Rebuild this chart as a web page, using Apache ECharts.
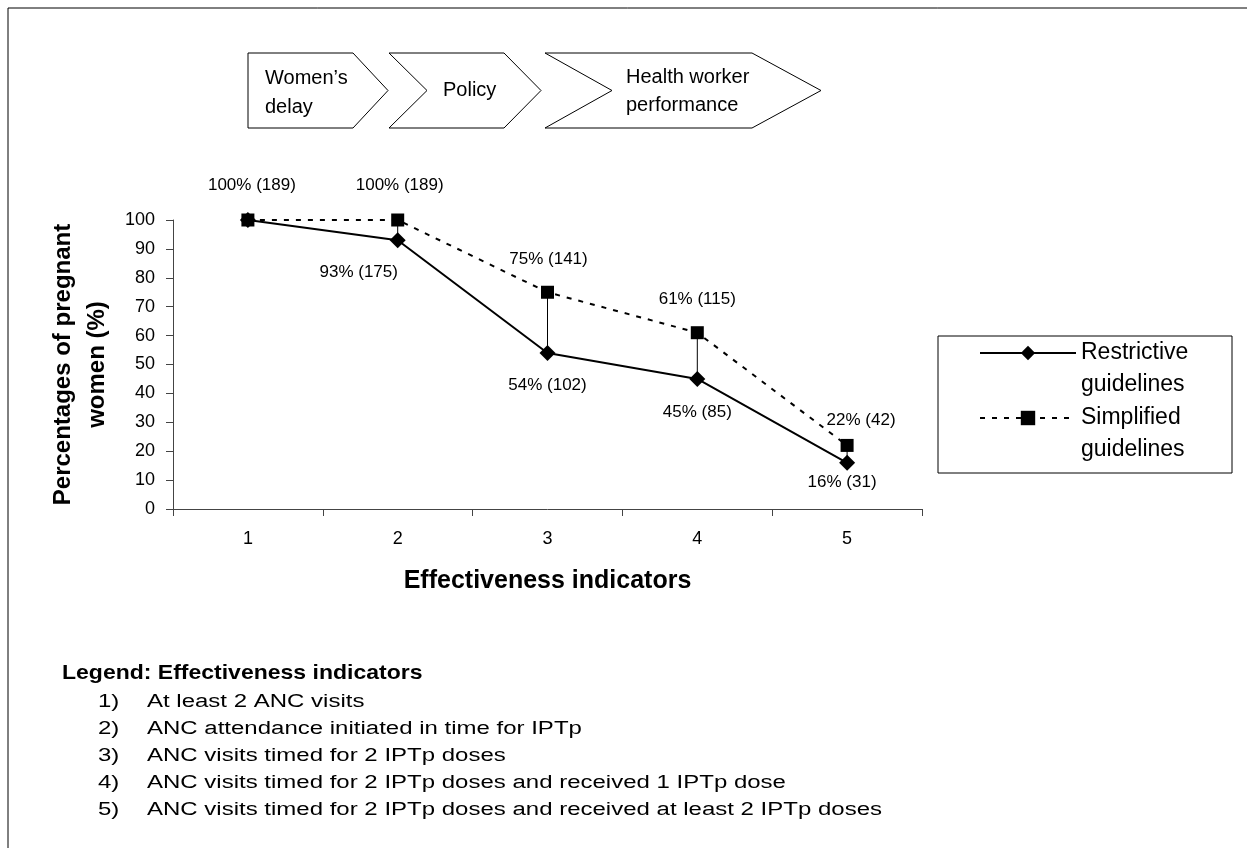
<!DOCTYPE html>
<html><head><meta charset="utf-8">
<script src="https://cdn.jsdelivr.net/npm/echarts@6/dist/echarts.min.js"></script>
<style>html,body{margin:0;padding:0;background:#fff}#c{width:1247px;height:848px}</style>
</head><body><div id="c"></div>
<script>
// ---- data ----
const categories = ['1', '2', '3', '4', '5'];
const restrictiveValues = [100, 93, 54, 45, 16];
const restrictiveCounts = [189, 175, 102, 85, 31];
const simplifiedValues = [100, 100, 75, 61, 22];
const simplifiedCounts = [189, 189, 141, 115, 42];
const seriesNames = ['Restrictive\nguidelines', 'Simplified\nguidelines'];
const stageLines = [['Women’s', 'delay'], ['Policy'], ['Health worker', 'performance']];
const indicatorTitle = 'Legend: Effectiveness indicators';
const indicatorLabels = [
  'At least 2 ANC visits',
  'ANC attendance initiated in time for IPTp',
  'ANC visits timed for 2 IPTp doses',
  'ANC visits timed for 2 IPTp doses and received 1 IPTp dose',
  'ANC visits timed for 2 IPTp doses and received at least 2 IPTp doses'
];

// ---- styling / layout (not data) ----
const FF = '"Liberation Sans", Arial, sans-serif';
const restrictiveLabelOffsets = [null, [-39, 2], [0, 2], [0, 3], [-5, -11]];
const simplifiedLabelOffsets = [[4, -2], [2, -2], [1, 0], [0, 0], [14, 8]];

function buildData(values, offsets, hideFirst) {
  return values.map((v, i) => {
    const item = { value: v };
    if (hideFirst && i === 0) item.label = { show: false };
    else if (offsets[i]) item.label = { offset: offsets[i] };
    return item;
  });
}

const chart = echarts.init(document.getElementById('c'), null, { renderer: 'canvas' });

const graphics = [];
// outer frame (left and top edges)
graphics.push({ type: 'line', shape: { x1: 8, y1: 8, x2: 8, y2: 848 }, style: { stroke: '#000', lineWidth: 1 } });
graphics.push({ type: 'line', shape: { x1: 8, y1: 8, x2: 1247, y2: 8 }, style: { stroke: '#000', lineWidth: 1 } });
// chevrons
const cTop = 53, cBot = 128, cMid = 90.5;
const chevrons = [
  [[248, cTop], [353, cTop], [388, cMid], [353, cBot], [248, cBot]],
  [[389, cTop], [504, cTop], [541, cMid], [504, cBot], [389, cBot], [427, cMid]],
  [[545, cTop], [752, cTop], [821, cMid], [752, cBot], [545, cBot], [612, cMid]]
];
chevrons.forEach(pts => graphics.push({ type: 'polygon', shape: { points: pts }, style: { fill: '#fff', stroke: '#000', lineWidth: 1 } }));
const stagePos = [[265, [78, 107]], [443, [90]], [626, [77, 105]]];
stageLines.forEach((lines, k) => {
  lines.forEach((t, j) => graphics.push({
    type: 'text', x: stagePos[k][0], y: stagePos[k][1][j],
    style: { text: t, x: 0, y: 0, verticalAlign: 'middle', font: '20px ' + FF, fill: '#000' }
  }));
});
// legend box border
graphics.push({ type: 'rect', shape: { x: 938, y: 336, width: 294, height: 137 }, style: { fill: 'none', stroke: '#000', lineWidth: 1 } });
// bottom indicator legend
graphics.push({ type: 'text', x: 62, y: 673, scaleY: 0.9,
  style: { text: indicatorTitle, x: 0, y: 0, verticalAlign: 'middle', font: 'bold 23px ' + FF, fill: '#000' } });
indicatorLabels.forEach((t, i) => {
  const y = 702 + i * 27;
  graphics.push({ type: 'text', x: 98, y: y, scaleY: 0.8,
    style: { text: (i + 1) + ')', x: 0, y: 0, verticalAlign: 'middle', font: '24px ' + FF, fill: '#000' } });
  graphics.push({ type: 'text', x: 147, y: y, scaleY: 0.8,
    style: { text: t, x: 0, y: 0, verticalAlign: 'middle', font: '24px ' + FF, fill: '#000' } });
});

const option = {
  backgroundColor: '#fff',
  animation: false,
  textStyle: { fontFamily: FF, color: '#000' },
  grid: { left: 173, right: 325, top: 220, bottom: 339 },
  legend: {
    orient: 'vertical', left: 979, top: 305, padding: 0,
    itemWidth: 96, itemHeight: 18, itemGap: -31,
    data: seriesNames,
    formatter: name => '\n' + name,
    textStyle: { fontSize: 23, lineHeight: 32, color: '#000', fontFamily: FF }
  },
  xAxis: {
    type: 'category', data: categories, boundaryGap: true,
    axisLine: { lineStyle: { color: '#444', width: 1 } },
    axisTick: { show: true, length: 7, lineStyle: { color: '#444' } },
    axisLabel: { fontSize: 18, margin: 21, color: '#000', fontFamily: FF },
    name: 'Effectiveness indicators', nameLocation: 'middle', nameGap: 60,
    nameTextStyle: { fontSize: 25, fontWeight: 'bold', color: '#000', fontFamily: FF }
  },
  yAxis: {
    type: 'value', min: 0, max: 100, interval: 10,
    splitLine: { show: false },
    axisLine: { show: true, lineStyle: { color: '#444', width: 1 } },
    axisTick: { show: true, length: 7, lineStyle: { color: '#444' } },
    axisLabel: { fontSize: 18, margin: 18, color: '#000', fontFamily: FF },
    name: 'Percentages of pregnant\nwomen (%)', nameLocation: 'middle', nameGap: 58, nameRotate: 90,
    nameTextStyle: { fontSize: 24, fontWeight: 'bold', lineHeight: 34, color: '#000', fontFamily: FF }
  },
  series: [
    {
      type: 'custom', name: 'hilo', silent: true, z: 1,
      renderItem: (params, api) => {
        const x = api.value(0);
        const p1 = api.coord([x, api.value(1)]);
        const p2 = api.coord([x, api.value(2)]);
        return { type: 'line', shape: { x1: p1[0], y1: p1[1], x2: p2[0], y2: p2[1] }, style: { stroke: '#000', lineWidth: 1 } };
      },
      data: categories.map((c, i) => [i, restrictiveValues[i], simplifiedValues[i]])
    },
    {
      type: 'line', name: seriesNames[0], z: 3,
      data: buildData(restrictiveValues, restrictiveLabelOffsets, true),
      symbol: 'diamond', symbolSize: 16, showAllSymbol: true,
      lineStyle: { color: '#000', width: 2, type: 'solid' },
      itemStyle: { color: '#000' },
      label: {
        show: true, position: 'bottom', distance: 14, fontSize: 17, color: '#000', fontFamily: FF,
        formatter: p => p.value + '% (' + restrictiveCounts[p.dataIndex] + ')'
      }
    },
    {
      type: 'line', name: seriesNames[1], z: 4,
      data: buildData(simplifiedValues, simplifiedLabelOffsets, false),
      symbol: 'rect', symbolSize: 13, showAllSymbol: true,
      lineStyle: { color: '#000', width: 2, type: [5, 7] },
      itemStyle: { color: '#000' },
      label: {
        show: true, position: 'top', distance: 18, fontSize: 17, color: '#000', fontFamily: FF,
        formatter: p => p.value + '% (' + simplifiedCounts[p.dataIndex] + ')'
      }
    }
  ],
  graphic: graphics
};
chart.setOption(option);
</script></body></html>
